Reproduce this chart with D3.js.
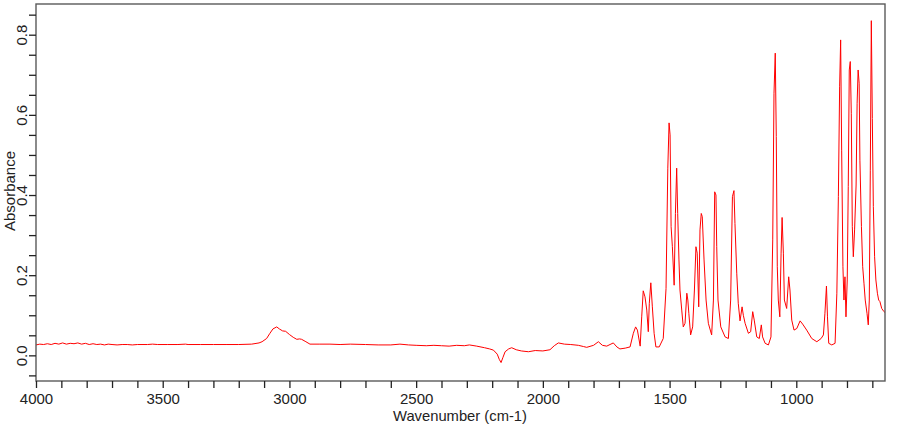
<!DOCTYPE html>
<html>
<head>
<meta charset="utf-8">
<script src="https://cdnjs.cloudflare.com/ajax/libs/d3/7.8.5/d3.min.js"></script>
<style>
  body { margin: 0; background: #fff; }
  svg { display: block; font-family: Arial, "Liberation Sans", sans-serif; }
</style>
</head>
<body>
<div id="chart"></div>
<script>
// spectrum (cm-1, absorbance)
var wavenumber = [
  4000, 3985, 3970, 3955, 3940, 3925, 3910, 3895, 3880, 3865, 3850, 3835, 3820, 3805, 3790, 3775,
  3760, 3745, 3730, 3715, 3700, 3680, 3660, 3640, 3620, 3600, 3560, 3540, 3520, 3480, 3440, 3410,
  3400, 3350, 3300, 3250, 3200, 3149, 3120, 3108, 3090, 3077, 3065, 3050, 3040, 3027, 3015, 3000,
  2985, 2971, 2960, 2952, 2935, 2919, 2880, 2840, 2800, 2760, 2700, 2650, 2600, 2564, 2530, 2500,
  2460, 2430, 2400, 2370, 2340, 2310, 2290, 2261, 2230, 2210, 2195, 2180, 2172, 2165, 2158, 2149,
  2135, 2123, 2105, 2085, 2057, 2030, 2000, 1972, 1955, 1939, 1915, 1890, 1860, 1840, 1827, 1800,
  1781, 1765, 1748, 1735, 1722, 1708, 1696, 1675, 1656, 1643, 1634, 1627, 1616, 1610, 1604, 1597,
  1590, 1584, 1580, 1574, 1568, 1561, 1554, 1541, 1525, 1514, 1507, 1502, 1498, 1494, 1489, 1482,
  1477, 1472, 1468, 1463, 1459, 1452, 1446, 1439, 1432, 1428, 1424, 1417, 1409, 1402, 1396, 1391,
  1385, 1380, 1375, 1371, 1364, 1356, 1347, 1334, 1327, 1322, 1317, 1314, 1309, 1298, 1281, 1268,
  1259, 1252, 1246, 1242, 1235, 1229, 1222, 1214, 1209, 1202, 1189, 1180, 1172, 1166, 1156, 1146,
  1138, 1133, 1123, 1110, 1100, 1093, 1088, 1083, 1079, 1075, 1071, 1065, 1060, 1056, 1051, 1047,
  1038, 1030, 1025, 1018, 1009, 998, 985, 975, 959, 939, 919, 902, 893, 887, 881, 877,
  872, 860, 847, 840, 834, 829, 825, 821, 816, 812, 808, 804, 799, 795, 791, 787,
  783, 779, 775, 770, 764, 760, 756, 752, 749, 743, 738, 733, 728, 721, 716, 712,
  708, 704, 700, 696, 691, 686, 680, 675, 670, 663, 654, 650
];
var absorbance = [
  0.026, 0.028, 0.027, 0.029, 0.027, 0.030, 0.028, 0.031, 0.028, 0.030, 0.029, 0.031, 0.028, 0.030, 0.027, 0.029,
  0.027, 0.028, 0.026, 0.028, 0.027, 0.026, 0.027, 0.027, 0.026, 0.027, 0.027, 0.028, 0.027, 0.027, 0.027, 0.028,
  0.027, 0.027, 0.027, 0.027, 0.027, 0.028, 0.031, 0.034, 0.042, 0.055, 0.066, 0.071, 0.066, 0.061, 0.060, 0.052,
  0.045, 0.040, 0.041, 0.040, 0.034, 0.028, 0.028, 0.028, 0.027, 0.028, 0.027, 0.026, 0.026, 0.028, 0.026, 0.025,
  0.024, 0.025, 0.024, 0.023, 0.025, 0.024, 0.026, 0.023, 0.019, 0.016, 0.013, 0.003, -0.010, -0.018, -0.006, 0.009,
  0.016, 0.019, 0.014, 0.011, 0.009, 0.012, 0.011, 0.014, 0.024, 0.031, 0.028, 0.027, 0.025, 0.022, 0.020, 0.025,
  0.034, 0.025, 0.023, 0.027, 0.031, 0.021, 0.016, 0.018, 0.021, 0.055, 0.071, 0.063, 0.023, 0.096, 0.161, 0.146,
  0.113, 0.059, 0.130, 0.181, 0.121, 0.055, 0.021, 0.021, 0.042, 0.167, 0.467, 0.580, 0.550, 0.321, 0.271, 0.175,
  0.354, 0.467, 0.354, 0.238, 0.163, 0.113, 0.071, 0.080, 0.155, 0.138, 0.105, 0.051, 0.071, 0.163, 0.271, 0.255,
  0.121, 0.313, 0.354, 0.346, 0.238, 0.138, 0.080, 0.051, 0.138, 0.408, 0.400, 0.271, 0.138, 0.071, 0.046, 0.042,
  0.138, 0.396, 0.411, 0.329, 0.205, 0.130, 0.086, 0.121, 0.100, 0.080, 0.055, 0.059, 0.109, 0.088, 0.046, 0.042,
  0.076, 0.046, 0.030, 0.026, 0.046, 0.288, 0.654, 0.754, 0.546, 0.221, 0.138, 0.096, 0.255, 0.344, 0.255, 0.138,
  0.117, 0.196, 0.163, 0.088, 0.063, 0.067, 0.086, 0.078, 0.063, 0.042, 0.034, 0.042, 0.051, 0.105, 0.173, 0.096,
  0.030, 0.026, 0.030, 0.155, 0.396, 0.670, 0.787, 0.512, 0.221, 0.138, 0.196, 0.096, 0.188, 0.421, 0.712, 0.733,
  0.604, 0.321, 0.246, 0.313, 0.425, 0.629, 0.712, 0.679, 0.487, 0.321, 0.221, 0.180, 0.138, 0.105, 0.076, 0.138,
  0.462, 0.835, 0.591, 0.371, 0.246, 0.188, 0.155, 0.138, 0.134, 0.117, 0.109, 0.107
];

var xTicks = d3.range(4000, 600, -100);
var xLabels = [4000, 3500, 3000, 2500, 2000, 1500, 1000];
var yTicks = d3.range(-1, 18).map(function(i) { return +(i * 0.05).toFixed(2); });
var yLabels = [0, 0.2, 0.4, 0.6, 0.8];

var width = 910, height = 425;
var plotLeft = 36, plotRight = 885, plotTop = 4, plotBottom = 381;

var svg = d3.select("#chart").append("svg")
    .attr("width", width)
    .attr("height", height);

var x = d3.scaleLinear().domain([4000, 650]).range([plotLeft, plotRight]);
var y = d3.scaleLinear().domain([-0.064, 0.8766]).range([plotBottom, plotTop]);

var points = wavenumber.map(function(w, i) { return [w, absorbance[i]]; });

//spectrum line
var line = d3.line()
    .x(function(d) { return x(d[0]); })
    .y(function(d) { return y(d[1]); });

svg.append("path")
    .datum(points)
    .attr("fill", "none")
    .attr("stroke", "#ff0000")
    .attr("stroke-width", 1)
    .attr("d", line);

//frame
svg.append("rect")
    .attr("x", plotLeft).attr("y", plotTop)
    .attr("width", plotRight - plotLeft).attr("height", plotBottom - plotTop)
    .attr("fill", "none")
    .attr("stroke", "#5a5a5a")
    .attr("stroke-width", 1.4);

//x axis
var xAxis = d3.axisBottom(x)
    .tickValues(xTicks)
    .tickSize(7)
    .tickSizeOuter(0)
    .tickPadding(5)
    .tickFormat(function(d) { return xLabels.indexOf(d) >= 0 ? d : ""; });

var gx = svg.append("g")
    .attr("transform", "translate(0," + plotBottom + ")")
    .call(xAxis);
gx.select(".domain").remove();
gx.selectAll("line").attr("stroke", "#222").attr("stroke-width", 1.3);
gx.selectAll("text").attr("fill", "#222").style("font-size", "15px");

//y axis
var yAxis = d3.axisLeft(y)
    .tickValues(yTicks)
    .tickSize(7)
    .tickSizeOuter(0)
    .tickFormat(function(d) { return yLabels.indexOf(d) >= 0 ? d3.format(".1f")(d) : ""; });

var gy = svg.append("g")
    .attr("transform", "translate(" + plotLeft + ",0)")
    .call(yAxis);
gy.select(".domain").remove();
gy.selectAll("line").attr("stroke", "#222").attr("stroke-width", 1.3);
gy.selectAll("text")
    .attr("x", null).attr("dy", null)
    .attr("transform", "translate(-9,0) rotate(-90)")
    .attr("text-anchor", "middle")
    .attr("fill", "#222")
    .style("font-size", "15px");

//axis titles
svg.append("text")
    .attr("x", 460).attr("y", 421)
    .attr("text-anchor", "middle")
    .attr("fill", "#222")
    .style("font-size", "15px")
    .attr("textLength", 134)
    .attr("lengthAdjust", "spacingAndGlyphs")
    .text("Wavenumber (cm-1)");

svg.append("text")
    .attr("transform", "translate(15,191) rotate(-90)")
    .attr("text-anchor", "middle")
    .attr("fill", "#222")
    .style("font-size", "15px")
    .text("Absorbance");
</script>
</body>
</html>
